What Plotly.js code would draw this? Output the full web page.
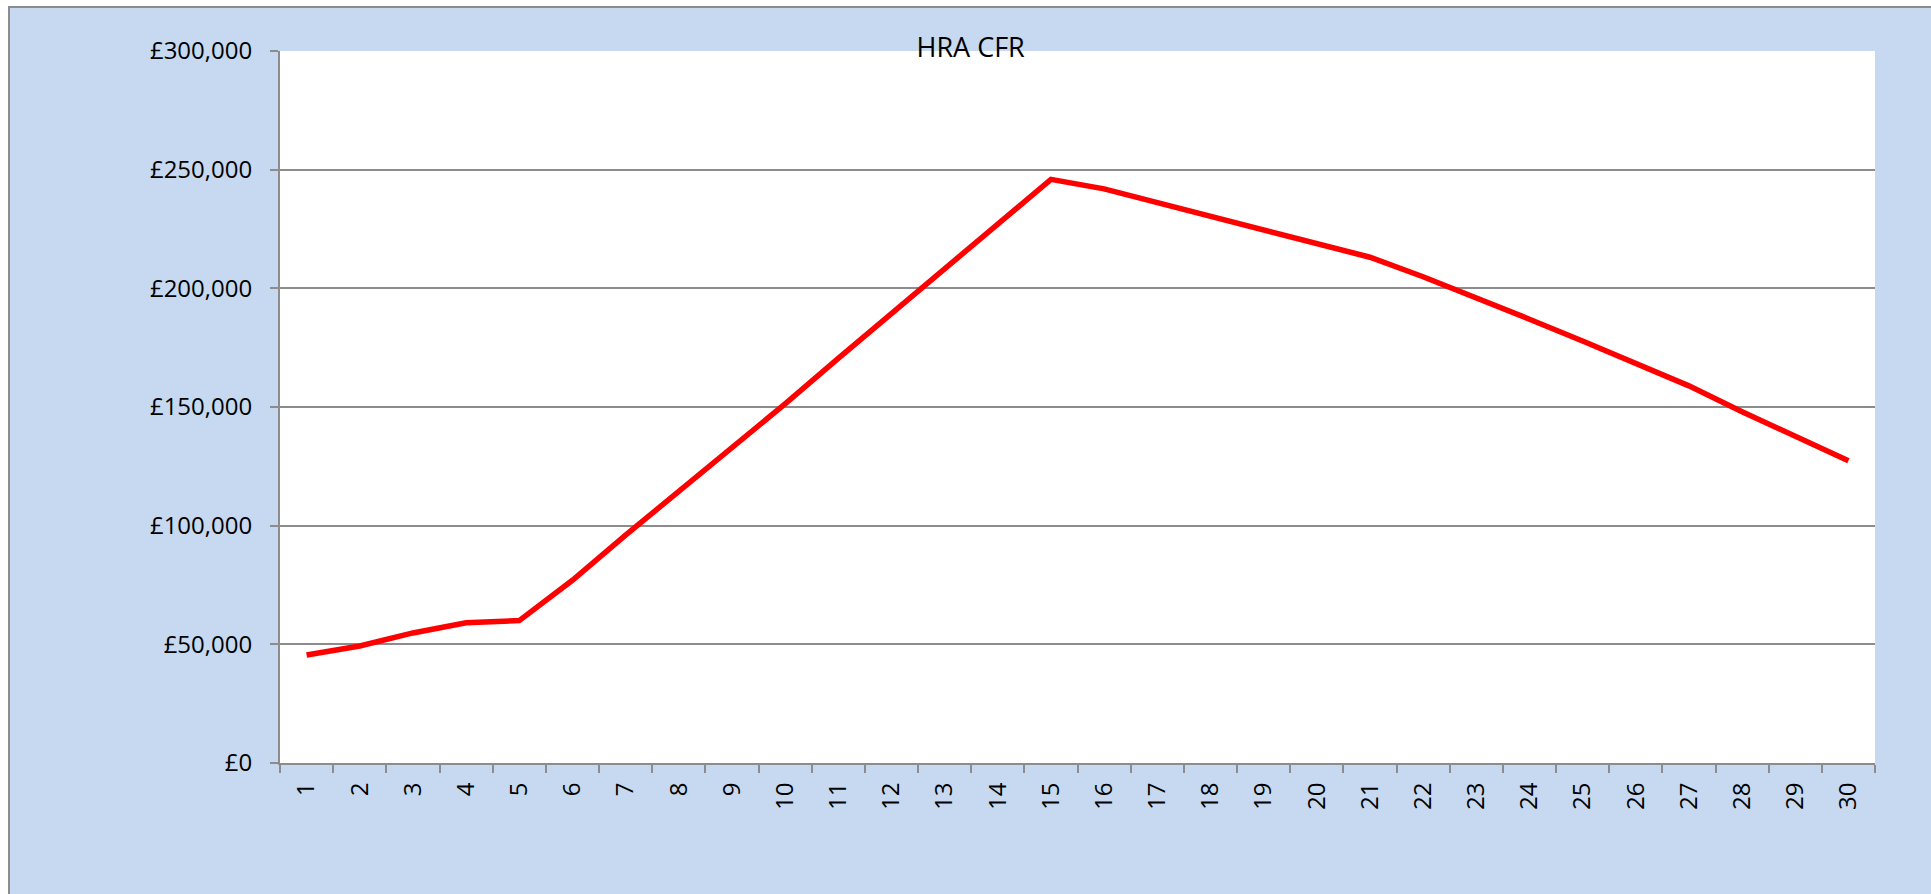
<!DOCTYPE html>
<html>
<head>
<meta charset="utf-8">
<script src="https://cdn.plot.ly/plotly-3.0.1.min.js"></script>
<style>
  html, body { margin: 0; padding: 0; background: #ffffff; overflow: hidden; }
  #chart {
    position: absolute; left: 8px; top: 6px;
    width: 1921px; height: 886px;
    border-left: 2px solid #8c8c8c; border-top: 2px solid #8c8c8c;
  }
</style>
</head>
<body>
<div id="chart"></div>
<script>
const chartTitle = "HRA CFR";
const years = ["1","2","3","4","5","6","7","8","9","10","11","12","13","14","15","16","17","18","19","20","21","22","23","24","25","26","27","28","29","30"];
const hraCFR = [45500, 49300, 54800, 59100, 60000, 77000, 96000, 114500, 132500, 151300, 170500, 189500, 208000, 227000, 245900,
                241900, 236200, 230500, 224800, 218900, 213100, 204900, 196100, 187000, 177800, 168100, 158900, 148000, 137500, 127400];
const yTickVals = [0, 50000, 100000, 150000, 200000, 250000, 300000];
const yTickText = yTickVals.map(v => "\u00a3" + v.toLocaleString("en-GB"));

const fontFamily = "'Open Sans', 'Noto Sans', sans-serif";

const trace = {
  x: years,
  y: hraCFR,
  type: "scatter",
  mode: "lines",
  line: { color: "#ff0000", width: 5.5 },
  hoverinfo: "skip"
};

const layout = {
  width: 1921,
  height: 886,
  paper_bgcolor: "#c6d9f0",
  plot_bgcolor: "#ffffff",
  margin: { l: 270, r: 56, t: 43, b: 131 },
  showlegend: false,
  title: {
    text: chartTitle,
    font: { family: fontFamily, size: 27, color: "#000000" },
    xref: "paper", x: 0.433, xanchor: "center",
    yref: "container", y: 0.955, yanchor: "middle"
  },
  xaxis: {
    type: "category",
    range: [-0.5, years.length - 0.5],
    tickson: "boundaries",
    ticks: "outside", ticklen: 8, tickwidth: 2, tickcolor: "#8c8c8c",
    showline: true, linecolor: "#8c8c8c", linewidth: 2,
    showgrid: false, zeroline: false,
    tickangle: -90,
    ticklabelstandoff: 8,
    tickfont: { family: fontFamily, size: 24, color: "#000000" }
  },
  yaxis: {
    range: [0, 300000],
    tickmode: "array",
    tickvals: yTickVals,
    ticktext: yTickText,
    ticks: "outside", ticklen: 8, tickwidth: 2, tickcolor: "#8c8c8c",
    showline: true, linecolor: "#8c8c8c", linewidth: 2,
    showgrid: true, gridcolor: "#8c8c8c", gridwidth: 2,
    zeroline: false,
    ticklabelstandoff: 13,
    tickfont: { family: fontFamily, size: 24, color: "#000000" }
  }
};

Plotly.newPlot("chart", [trace], layout, { displayModeBar: false, staticPlot: true });
</script>
</body>
</html>
